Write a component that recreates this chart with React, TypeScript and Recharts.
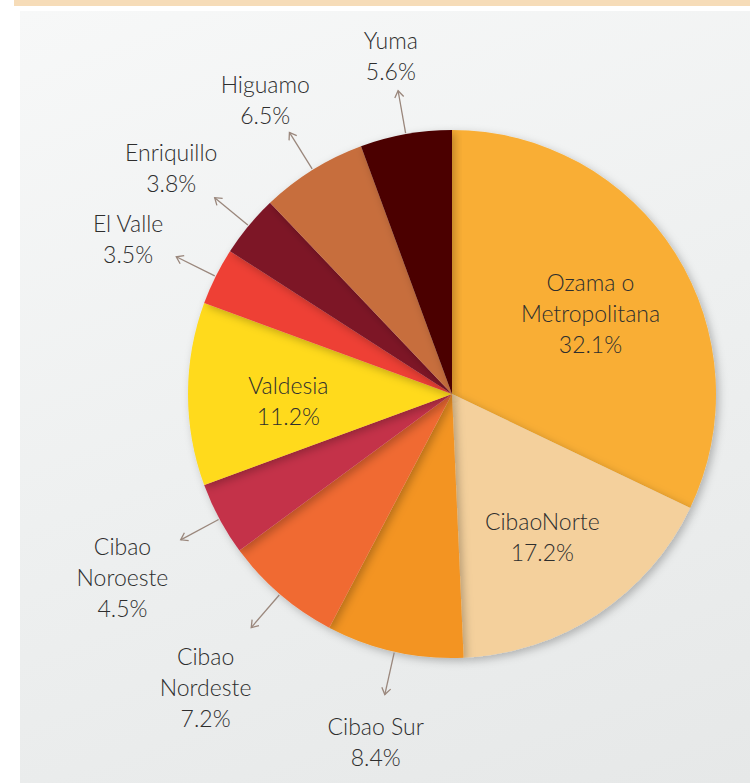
import { PieChart, Pie, Cell } from "recharts";

const regions = [
  "Ozama o\nMetropolitana",
  "CibaoNorte",
  "Cibao Sur",
  "Cibao\nNordeste",
  "Cibao\nNoroeste",
  "Valdesia",
  "El Valle",
  "Enriquillo",
  "Higuamo",
  "Yuma",
];
const shares = [32.1, 17.2, 8.4, 7.2, 4.5, 11.2, 3.5, 3.8, 6.5, 5.6];
const colors = ["#F9AE35", "#F4D09C", "#F39422", "#F06A33", "#C4304A", "#FFDA1A", "#EE4136", "#7D1426", "#C76E3E", "#4C0006"];
const insideLabels = ["Ozama o\nMetropolitana", "CibaoNorte", "Valdesia"];

const data = regions.map((name, i) => ({ name, value: shares[i] }));

const RAD = Math.PI / 180;
const FONT = "Lato, 'Liberation Sans', sans-serif";
const FONT_SIZE = 23;
const LINE_H = 31;
const ARROW = "#9a877c";

let ctx: CanvasRenderingContext2D | null = null;
function textWidth(s: string) {
  if (!ctx) ctx = document.createElement("canvas").getContext("2d");
  if (!ctx) return s.length * FONT_SIZE * 0.5;
  ctx.font = `300 ${FONT_SIZE}px ${FONT}`;
  return ctx.measureText(s).width;
}

// eslint-disable-next-line @typescript-eslint/no-explicit-any
function renderLabel(props: any) {
  const { cx, cy, midAngle, outerRadius, index } = props;
  const name = regions[index];
  const lines = [...name.split("\n"), `${shares[index].toFixed(1)}%`];
  const cos = Math.cos(-midAngle * RAD);
  const sin = Math.sin(-midAngle * RAD);
  const inside = insideLabels.includes(name);
  let r = outerRadius * 0.62;
  if (!inside) {
    const hw = Math.max(...lines.map(textWidth)) / 2;
    const hh = ((lines.length - 1) * LINE_H) / 2 + FONT_SIZE * 0.5;
    const ext = Math.min(hw / Math.max(Math.abs(cos), 0.01), hh / Math.max(Math.abs(sin), 0.01));
    r = outerRadius + 58 + ext;
  }
  const tx = cx + r * cos;
  const ty = cy + r * sin + 6;
  const text = (
    <text x={tx} y={ty} textAnchor="middle" fill="#2e2e2e" fontFamily={FONT} fontWeight={300} fontSize={FONT_SIZE}>
      {lines.map((l, i) => (
        <tspan key={i} x={tx} y={ty + (i - (lines.length - 1) / 2) * LINE_H} dominantBaseline="central">
          {l}
        </tspan>
      ))}
    </text>
  );
  if (inside) return <g>{text}</g>;
  const x0 = cx + (outerRadius + 1) * cos;
  const y0 = cy + (outerRadius + 1) * sin;
  const x1 = cx + (outerRadius + 44) * cos;
  const y1 = cy + (outerRadius + 44) * sin;
  const a = Math.atan2(y0 - y1, x0 - x1);
  const w = 8;
  return (
    <g>
      <line x1={x0} y1={y0} x2={x1} y2={y1} stroke={ARROW} strokeWidth={1.3} />
      <path
        d={`M${x1 + w * Math.cos(a + 0.6)},${y1 + w * Math.sin(a + 0.6)} L${x1},${y1} L${x1 + w * Math.cos(a - 0.6)},${y1 + w * Math.sin(a - 0.6)}`}
        stroke={ARROW}
        strokeWidth={1.3}
        fill="none"
      />
      {text}
    </g>
  );
}

export default function App() {
  return (
    <div style={{ position: "fixed", left: 0, top: 0, width: 750, height: 783, background: "#fff", overflow: "hidden" }}>
      <div style={{ position: "absolute", left: 14, top: 0, width: 736, height: 6, background: "#F6DCB8" }} />
      <div
        style={{
          position: "absolute",
          left: 20,
          top: 11,
          width: 730,
          height: 772,
          background: "linear-gradient(160deg, #f7f8f8 0%, #eef0f0 50%, #e6e8e8 100%)",
        }}
      />
      <div style={{ position: "absolute", left: 0, top: 0 }}>
        <PieChart width={750} height={783} margin={{ top: 0, right: 0, bottom: 0, left: 0 }}>
          <defs>
            <filter id="pieShadow" x="-10%" y="-10%" width="120%" height="120%">
              <feDropShadow dx={3} dy={3} stdDeviation={4} floodColor="#000" floodOpacity={0.25} />
            </filter>
          </defs>
          <Pie
            data={data}
            dataKey="value"
            nameKey="name"
            cx={452}
            cy={394}
            outerRadius={264}
            startAngle={90}
            endAngle={-270}
            stroke="none"
            label={renderLabel}
            labelLine={false}
            isAnimationActive={false}
            style={{ filter: "url(#pieShadow)" }}
          >
            {data.map((d, i) => (
              <Cell key={d.name} fill={colors[i]} />
            ))}
          </Pie>
        </PieChart>
      </div>
    </div>
  );
}
